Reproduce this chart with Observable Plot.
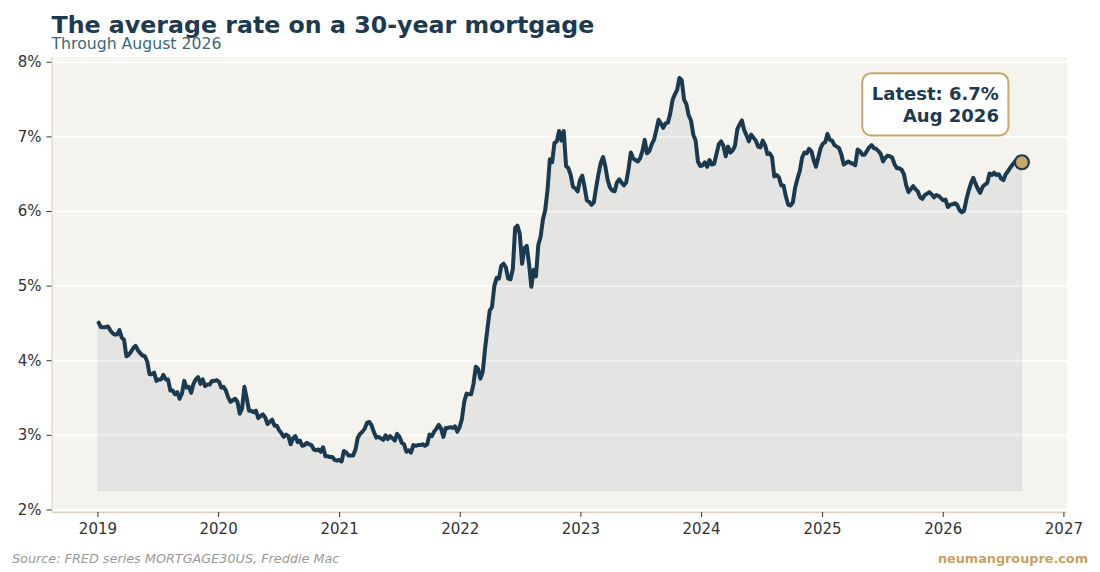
<!DOCTYPE html>
<html><head><meta charset="utf-8">
<script src="https://cdn.jsdelivr.net/npm/d3@7"></script>
<script src="https://cdn.jsdelivr.net/npm/@observablehq/plot@0.6"></script>
<style>
body{margin:0;background:#fff;font-family:"DejaVu Sans",sans-serif;}
#wrap{position:relative;width:1100px;height:572px;overflow:hidden;background:#fff;}
.t{position:absolute;white-space:nowrap;line-height:1;}
#title{left:51.5px;top:14px;font-size:23.7px;font-weight:bold;color:#1d3a50;}
#sub{left:51.5px;top:35.7px;font-size:15.7px;color:#3b6978;}
#chart{position:absolute;left:0;top:52px;}
#src{left:12px;top:552.5px;font-size:12.8px;font-style:italic;color:#9a9a9a;}
#brand{right:12px;top:552.5px;font-size:12.8px;font-weight:bold;color:#c9a262;}
</style></head><body>
<div id="wrap">
<div class="t" id="title">The average rate on a 30-year mortgage</div>
<div class="t" id="sub">Through August 2026</div>
<div id="chart"></div>
<div class="t" id="src">Source: FRED series MORTGAGE30US, Freddie Mac</div>
<div class="t" id="brand">neumangroupre.com</div>
</div>
<script>
// First weekly (Thursday) observation of each year
const yearStarts = ["2019-01-03","2020-01-02","2021-01-07","2022-01-06","2023-01-05","2024-01-04","2025-01-02","2026-01-01"];

// Weekly 30-year fixed rate (%)
const rates2019 = [4.51,4.45,4.45,4.45,4.46, 4.41,4.37,4.35,4.35, 4.41,4.31,4.28,4.06, 4.08,4.12,4.17,4.20, 4.14,4.10,4.07,4.06,3.99, 3.82,3.82,3.84,3.73, 3.75,3.75,3.81,3.75, 3.75,3.60,3.60,3.55,3.58, 3.49,3.56,3.73,3.64, 3.65,3.57,3.69,3.75,3.78, 3.69,3.75,3.66,3.68, 3.68,3.73,3.73,3.74];
const rates2020 = [3.72,3.64,3.65,3.60,3.51, 3.45,3.47,3.49,3.45, 3.29,3.36,3.65,3.50, 3.33,3.33,3.31,3.33,3.23, 3.26,3.28,3.24,3.15, 3.18,3.21,3.13,3.13, 3.07,3.03,2.98,3.01,2.99, 2.88,2.96,2.99,2.91, 2.93,2.86,2.87,2.90, 2.88,2.87,2.81,2.80,2.81, 2.78,2.84,2.72,2.72, 2.71,2.71,2.67,2.66,2.67];
const rates2021 = [2.65,2.79,2.77,2.73, 2.73,2.73,2.81,2.97, 3.02,3.05,3.09,3.17, 3.18,3.13,3.04,2.97,2.98, 2.96,2.94,3.00,2.95, 2.99,2.96,2.93,3.02, 2.98,2.90,2.88,2.78,2.80, 2.77,2.87,2.86,2.87, 2.87,2.88,2.86,2.88,3.01, 2.99,3.05,3.09,3.14, 3.09,2.98,3.10,3.10, 3.11,3.10,3.12,3.05,3.11];
const rates2022 = [3.22,3.45,3.56,3.55, 3.55,3.69,3.92,3.89, 3.76,3.85,4.16,4.42,4.67, 4.72,5.00,5.11,5.10, 5.27,5.30,5.25,5.10, 5.09,5.23,5.78,5.81,5.70, 5.30,5.51,5.54,5.30, 4.99,5.22,5.13,5.55, 5.66,5.89,6.02,6.29,6.70, 6.66,6.92,6.94,7.08, 6.95,7.08,6.61,6.58, 6.49,6.33,6.31,6.27,6.42];
const rates2023 = [6.48,6.33,6.15,6.13, 6.09,6.12,6.32,6.50, 6.65,6.73,6.60,6.42,6.32, 6.28,6.27,6.39,6.43, 6.39,6.35,6.39,6.57, 6.79,6.71,6.69,6.67,6.71, 6.81,6.96,6.78,6.81, 6.90,6.96,7.09,7.23,7.18, 7.12,7.18,7.19,7.31, 7.49,7.57,7.63,7.79, 7.76,7.50,7.44,7.29,7.22, 7.03,6.95,6.67,6.61];
const rates2024 = [6.62,6.66,6.60,6.69, 6.63,6.64,6.77,6.90,6.94, 6.88,6.74,6.87,6.79, 6.82,6.88,7.10,7.17, 7.22,7.09,7.02,6.94,7.03, 6.99,6.95,6.87,6.86, 6.95,6.89,6.77,6.78, 6.73,6.47,6.49,6.46,6.35, 6.35,6.20,6.09,6.08, 6.12,6.32,6.44,6.54,6.72, 6.79,6.78,6.84,6.81, 6.69,6.60,6.72,6.85];
const rates2025 = [6.91,6.93,7.04,6.96,6.95, 6.89,6.87,6.85,6.76, 6.63,6.65,6.67,6.65, 6.64,6.62,6.83,6.81, 6.76,6.76,6.81,6.86,6.89, 6.85,6.84,6.81,6.77, 6.67,6.72,6.75,6.74,6.72, 6.63,6.58,6.58,6.56, 6.50,6.35,6.26,6.30, 6.34,6.30,6.27,6.19,6.17, 6.22,6.24,6.26,6.23, 6.19,6.22,6.21,6.18];
const rates2026 = [6.15,6.16,6.06,6.09,6.10, 6.11,6.09,6.02,5.99, 6.01,6.16,6.28,6.38, 6.45,6.37,6.30,6.25,6.33, 6.36,6.38,6.51,6.49, 6.52,6.49,6.50,6.44, 6.42,6.50,6.54,6.59,6.63, 6.67,6.70,6.67,6.66];

const yTicks = [2,3,4,5,6,7,8];
const xTickYears = [2019,2020,2021,2022,2023,2024,2025,2026,2027];
const latestLines = ["Latest: 6.7%","Aug 2026"];

const yearly = [rates2019,rates2020,rates2021,rates2022,rates2023,rates2024,rates2025,rates2026];
const data = [];
yearly.forEach((arr, k) => {
  const s = new Date(yearStarts[k] + "T00:00:00Z");
  arr.forEach((v, i) => {
    data.push({date: new Date(Date.UTC(s.getUTCFullYear(), s.getUTCMonth(), s.getUTCDate() + 7 * i)), rate: v});
  });
});
const last = data[data.length - 1];
const floor = d3.min(data, d => d.rate) - 0.4;
const xDomain = [new Date("2018-08-15T00:00:00Z"), new Date("2027-01-11T00:00:00Z")];
const yDomain = [1.966, 8.068];
const xTicks = xTickYears.map(y => new Date(Date.UTC(y, 0, 1)));

const plot = Plot.plot({
  width: 1100, height: 493,
  marginTop: 4.7, marginBottom: 33, marginLeft: 51.5, marginRight: 33.3,
  style: {fontFamily: '"DejaVu Sans", sans-serif', fontSize: "15px", color: "#333", background: "transparent", overflow: "visible"},
  x: {type: "utc", domain: xDomain},
  y: {domain: yDomain},
  marks: [
    Plot.frame({fill: "#f4f3ee", stroke: null}),
    Plot.ruleY(yTicks, {stroke: "#ffffff", strokeWidth: 1.8}),
    Plot.areaY(data, {x: "date", y1: floor, y2: "rate", fill: "#1b3a4f", fillOpacity: 0.07, stroke: "#1b3a4f", strokeOpacity: 0.05, strokeWidth: 1.5}),
    Plot.ruleX([xDomain[0]], {stroke: "#e2d4c0", strokeWidth: 1.3}),
    Plot.ruleY([yDomain[0]], {stroke: "#e2d4c0", strokeWidth: 1.3}),
    Plot.axisY(yTicks, {tickFormat: d => d + "%", tickSize: 5, tickPadding: 5.5, label: null, fontSize: 15, stroke: "#333"}),
    Plot.axisX(xTicks, {tickFormat: "%Y", tickSize: 5, tickPadding: 6, label: null, fontSize: 15, stroke: "#333"}),
    Plot.lineY(data, {x: "date", y: "rate", stroke: "#1b3a4f", strokeWidth: 4, strokeLinejoin: "round", strokeLinecap: "round"}),
    Plot.dot([last], {x: "date", y: "rate", r: 7, fill: "#c9a66b", stroke: "#1b3a4f", strokeWidth: 2.2}),
    Plot.text([last], {x: "date", y: "rate", text: () => latestLines.join("\n"), textAnchor: "end", lineAnchor: "top", lineHeight: 1.244, dx: -23, dy: -78.5, fontSize: 18, fontWeight: "bold", fill: "#1d3a50"})
  ]
});
document.getElementById("chart").append(plot);

// rounded annotation box behind the latest label
const tg = plot.querySelector('g[aria-label="text"]');
if (tg) {
  const sr = plot.getBoundingClientRect();
  const r = tg.getBoundingClientRect();
  const padX = 9.5, padY = 9.5;
  const rect = document.createElementNS("http://www.w3.org/2000/svg", "rect");
  rect.setAttribute("x", r.left - sr.left - padX);
  rect.setAttribute("y", r.top - sr.top - padY);
  rect.setAttribute("width", r.width + 2 * padX);
  rect.setAttribute("height", r.height + 2 * padY);
  rect.setAttribute("rx", 9);
  rect.setAttribute("fill", "#ffffff");
  rect.setAttribute("stroke", "#c9a66b");
  rect.setAttribute("stroke-width", 2);
  tg.parentNode.insertBefore(rect, tg);
}
</script>
</body></html>
